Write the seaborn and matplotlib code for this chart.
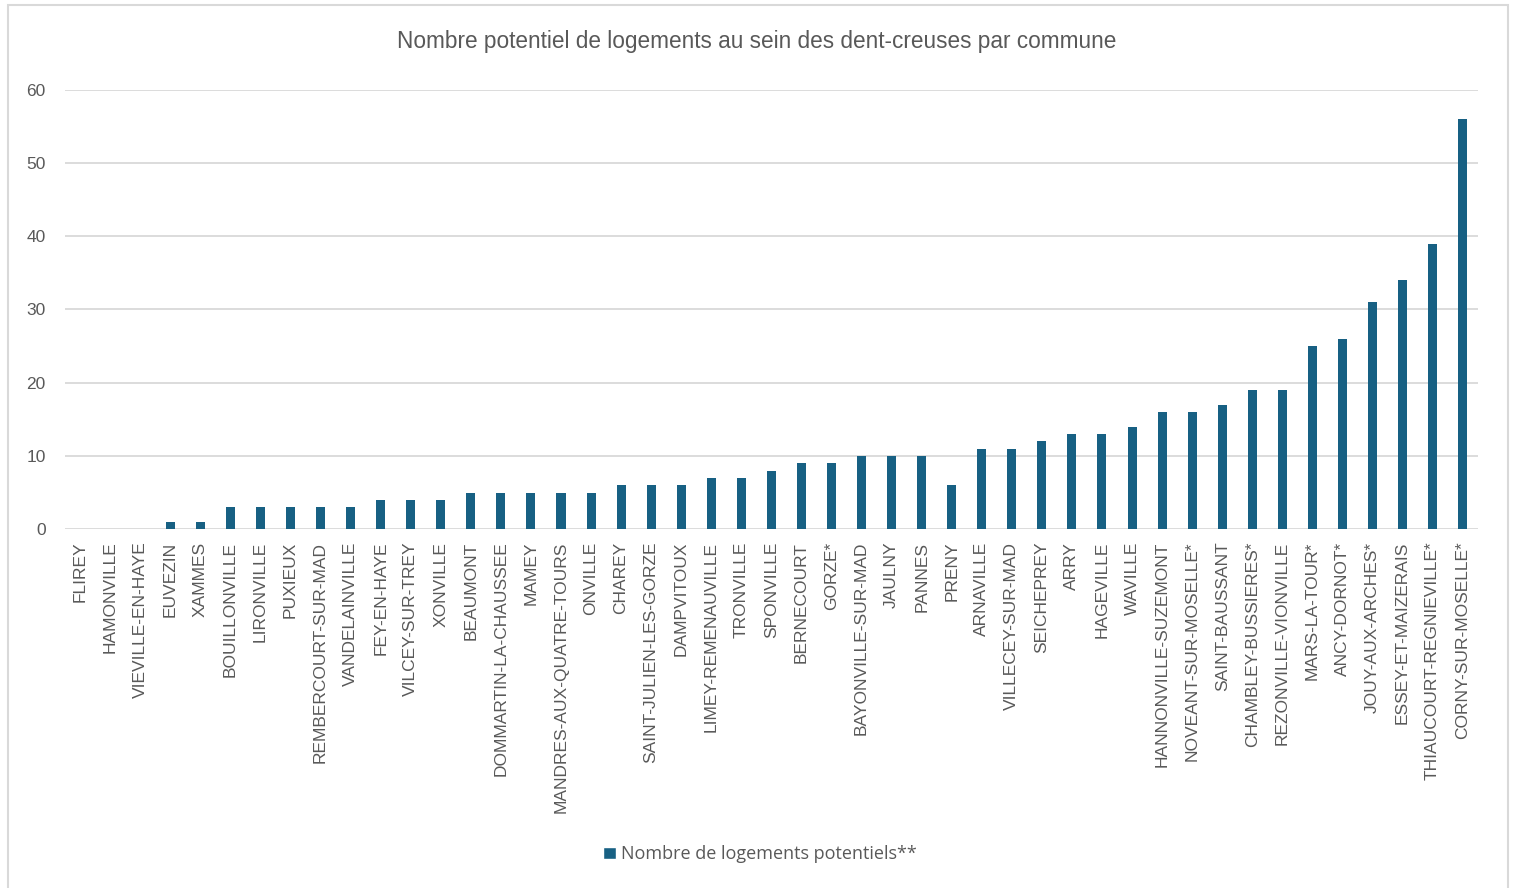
import numpy as np
import pandas as pd
import matplotlib
matplotlib.use("Agg")
import matplotlib.pyplot as plt
import seaborn as sns
from matplotlib.patches import Rectangle, Patch

#Data
communes = [
    "FLIREY", "HAMONVILLE", "VIEVILLE-EN-HAYE", "EUVEZIN", "XAMMES",
    "BOUILLONVILLE", "LIRONVILLE", "PUXIEUX", "REMBERCOURT-SUR-MAD",
    "VANDELAINVILLE", "FEY-EN-HAYE", "VILCEY-SUR-TREY", "XONVILLE",
    "BEAUMONT", "DOMMARTIN-LA-CHAUSSEE", "MAMEY", "MANDRES-AUX-QUATRE-TOURS",
    "ONVILLE", "CHAREY", "SAINT-JULIEN-LES-GORZE", "DAMPVITOUX",
    "LIMEY-REMENAUVILLE", "TRONVILLE", "SPONVILLE", "BERNECOURT", "GORZE*",
    "BAYONVILLE-SUR-MAD", "JAULNY", "PANNES", "PRENY", "ARNAVILLE",
    "VILLECEY-SUR-MAD", "SEICHEPREY", "ARRY", "HAGEVILLE", "WAVILLE",
    "HANNONVILLE-SUZEMONT", "NOVEANT-SUR-MOSELLE*", "SAINT-BAUSSANT",
    "CHAMBLEY-BUSSIERES*", "REZONVILLE-VIONVILLE", "MARS-LA-TOUR*",
    "ANCY-DORNOT*", "JOUY-AUX-ARCHES*", "ESSEY-ET-MAIZERAIS",
    "THIAUCOURT-REGNIEVILLE*", "CORNY-SUR-MOSELLE*",
]
logements = [
    0, 0, 0, 1, 1, 3, 3, 3, 3, 3, 4, 4, 4, 5, 5, 5, 5, 5, 6, 6, 6, 7, 7, 8,
    9, 9, 10, 10, 10, 6, 11, 11, 12, 13, 13, 14, 16, 16, 17, 19, 19, 25, 26,
    31, 34, 39, 56,
]
y_ticks = [0, 10, 20, 30, 40, 50, 60]

series_name = "Nombre de logements potentiels**"
title = "Nombre potentiel de logements au sein des dent-creuses par commune"

bar_colour = "#176083"
text_colour = "#595959"
grid_colour = "#d9d9d9"

df = pd.DataFrame({"commune": communes, "logements": logements})

sns.set_style("white")
plt.rcParams["font.family"] = ["Liberation Sans", "DejaVu Sans"]

fig = plt.figure(figsize=(15.14, 8.88), dpi=100)
ax = fig.add_axes([0.043, 0.404, 0.933, 0.495])

sns.barplot(data=df, x="commune", y="logements", color=bar_colour,
            width=0.3, saturation=1, linewidth=0, ax=ax)

ax.set_ylim(0, 60)
ax.set_xlim(-0.5, len(communes) - 0.5)
ax.set_yticks(y_ticks)
ax.set_xlabel("")
ax.set_ylabel("")

#Horizontal gridlines behind the bars
ax.set_axisbelow(True)
ax.yaxis.grid(True, color=grid_colour, linewidth=1.3)
for side in ["top", "right", "left", "bottom"]:
    ax.spines[side].set_visible(False)

ax.tick_params(axis="y", length=0, pad=14, labelsize=12.5, labelcolor=text_colour)
ax.tick_params(axis="x", length=0, pad=9, labelsize=12.5, labelcolor=text_colour)
plt.setp(ax.get_xticklabels(), rotation=90, va="top", ha="center")

fig.text(0.5, 0.953, title, ha="center", va="center",
         fontsize=16.3, color=text_colour)

fig.legend(handles=[Patch(facecolor=bar_colour, label=series_name)],
           loc="center", bbox_to_anchor=(0.502, 0.038), frameon=False,
           labelcolor=text_colour, handlelength=0.7,
           handleheight=0.7, handletextpad=0.3,
           prop={"family": ["Open Sans", "DejaVu Sans"], "size": 13})

#Light frame around the chart
fig.patches.append(Rectangle((0.005, -0.01), 0.991, 1.004,
                             transform=fig.transFigure, fill=False,
                             edgecolor=grid_colour, linewidth=1.5))

fig.savefig("out.png", dpi=100, facecolor="white")
